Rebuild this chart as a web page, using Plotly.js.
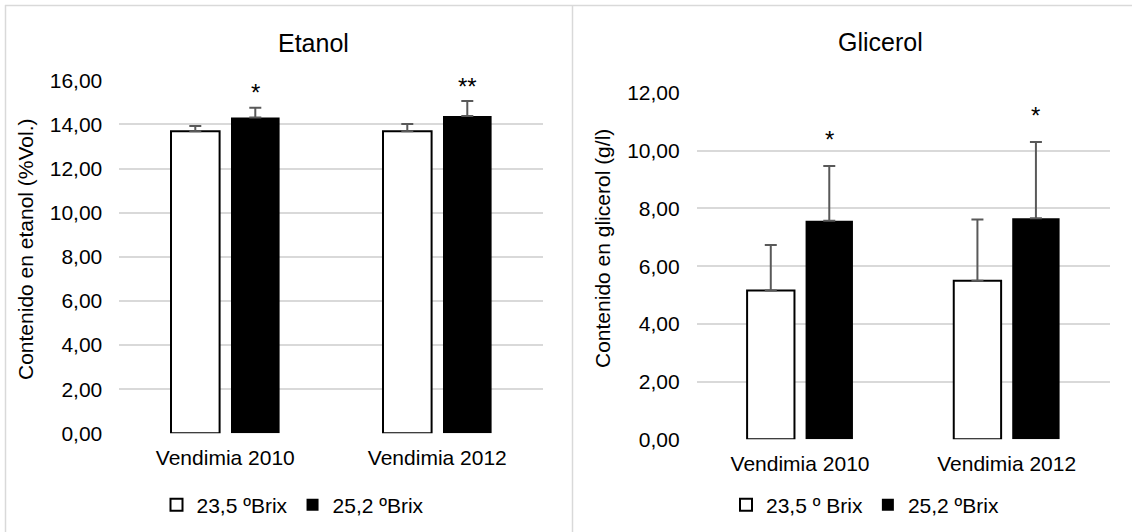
<!DOCTYPE html>
<html>
<head>
<meta charset="utf-8">
<script src="https://cdn.plot.ly/plotly-3.0.1.min.js"></script>
<style>
  html, body { margin: 0; padding: 0; background: #ffffff; }
  #chart { width: 1132px; height: 532px; }
</style>
</head>
<body>
<div id="chart"></div>
<script>
// ---- data ----
const categories = ['Vendimia 2010', 'Vendimia 2012'];

const etanolSeriesNames = ['23,5 ºBrix', '25,2 ºBrix'];
const etanolLow = [13.69, 13.69];
const etanolLowErr = [0.24, 0.33];
const etanolHigh = [14.31, 14.38];
const etanolHighErr = [0.45, 0.68];
const etanolSig = ['*', '**'];

const glicerolSeriesNames = ['23,5 º Brix', '25,2 ºBrix'];
const glicerolLow = [5.16, 5.49];
const glicerolLowErr = [1.57, 2.13];
const glicerolHigh = [7.57, 7.66];
const glicerolHighErr = [1.90, 2.64];
const glicerolSig = ['*', '*'];

const etanolTitle = 'Etanol';
const glicerolTitle = 'Glicerol';
const etanolYTitle = 'Contenido en etanol (%Vol.)';
const glicerolYTitle = 'Contenido en glicerol (g/l)';

// ---- style ----
const FONT = 'Liberation Sans, Arial, sans-serif';
const TXT = '#000000';
const GRID = '#d9d9d9';
const ERRC = '#595959';
const W = 1132, H = 532;
const BARGAP = 0.434, BARGROUPGAP = 0.19;
const FS = 21;

function zeros(a) { return a.map(() => 0); }

function barTrace(y, err, name, fill, xa, ya, legend) {
  return {
    type: 'bar', x: categories, y: y, name: name,
    xaxis: xa, yaxis: ya, legend: legend,
    marker: { color: fill, line: { color: '#000000', width: fill === '#ffffff' ? 2 : 0 } },
    error_y: { type: 'data', symmetric: false, array: err, arrayminus: zeros(err),
               color: ERRC, thickness: 2, width: 6 },
    hoverinfo: 'x+y+name'
  };
}

const traces = [
  barTrace(etanolLow, etanolLowErr, etanolSeriesNames[0], '#ffffff', 'x', 'y', 'legend'),
  barTrace(etanolHigh, etanolHighErr, etanolSeriesNames[1], '#000000', 'x', 'y', 'legend'),
  barTrace(glicerolLow, glicerolLowErr, glicerolSeriesNames[0], '#ffffff', 'x2', 'y2', 'legend2'),
  barTrace(glicerolHigh, glicerolHighErr, glicerolSeriesNames[1], '#000000', 'x2', 'y2', 'legend2')
];

const offset = (1 - BARGAP) / 4; // centre of second bar within a group, in category units
const annotations = [];
etanolSig.forEach((s, i) => annotations.push({
  xref: 'x', yref: 'y', x: i + offset, y: etanolHigh[i] + etanolHighErr[i],
  text: s, showarrow: false, yanchor: 'middle', yshift: 15,
  font: { family: FONT, size: 24, color: TXT }
}));
glicerolSig.forEach((s, i) => annotations.push({
  xref: 'x2', yref: 'y2', x: i + offset, y: glicerolHigh[i] + glicerolHighErr[i],
  text: s, showarrow: false, yanchor: 'middle', yshift: 27,
  font: { family: FONT, size: 24, color: TXT }
}));
// chart titles
annotations.push({ xref: 'paper', yref: 'paper', x: 313 / W, y: 1 - 43 / H, text: etanolTitle,
  showarrow: false, xanchor: 'center', yanchor: 'middle', font: { family: FONT, size: 25, color: TXT } });
annotations.push({ xref: 'paper', yref: 'paper', x: 880 / W, y: 1 - 42 / H, text: glicerolTitle,
  showarrow: false, xanchor: 'center', yanchor: 'middle', font: { family: FONT, size: 25, color: TXT } });
// y axis titles
annotations.push({ xref: 'paper', yref: 'paper', x: 25 / W, y: 1 - 249 / H, text: etanolYTitle,
  textangle: -90, showarrow: false, xanchor: 'center', yanchor: 'middle', font: { family: FONT, size: FS, color: TXT } });
annotations.push({ xref: 'paper', yref: 'paper', x: 602 / W, y: 1 - 249 / H, text: glicerolYTitle,
  textangle: -90, showarrow: false, xanchor: 'center', yanchor: 'middle', font: { family: FONT, size: FS, color: TXT } });

const yCommon = {
  tickformat: '.2f', showgrid: true, gridcolor: GRID, gridwidth: 2,
  zeroline: false, showline: false, ticks: '', ticklabelstandoff: 16,
  tickfont: { family: FONT, size: FS, color: TXT }, fixedrange: true
};
const xCommon = {
  type: 'category', showgrid: false, zeroline: false, showline: false, ticks: '',
  ticklabelstandoff: 10, tickfont: { family: FONT, size: FS, color: TXT }, fixedrange: true
};

const legendCommon = {
  orientation: 'h', xanchor: 'center', yanchor: 'middle',
  font: { family: FONT, size: FS, color: TXT }, bgcolor: 'rgba(0,0,0,0)', traceorder: 'normal'
};

const shapeLine = { color: '#d9d9d9', width: 1.5 };
const layout = {
  width: W, height: H,
  margin: { l: 0, r: 0, t: 0, b: 0, pad: 0 },
  paper_bgcolor: '#ffffff', plot_bgcolor: '#ffffff',
  separators: ', ',
  barmode: 'group', bargap: BARGAP, bargroupgap: BARGROUPGAP,
  xaxis: Object.assign({}, xCommon, { domain: [119.3 / W, 543.3 / W], anchor: 'y' }),
  yaxis: Object.assign({}, yCommon, { domain: [1 - 433.3 / H, 1 - 80.3 / H], range: [0, 16], dtick: 2, anchor: 'x' }),
  xaxis2: Object.assign({}, xCommon, { domain: [696.7 / W, 1110 / W], anchor: 'y2' }),
  yaxis2: Object.assign({}, yCommon, { domain: [1 - 439.3 / H, 1 - 93 / H], range: [0, 12], dtick: 2, anchor: 'x2' }),
  legend: Object.assign({}, legendCommon, { x: 293 / W, y: 1 - 505 / H }),
  legend2: Object.assign({}, legendCommon, { x: 865 / W, y: 1 - 505 / H }),
  annotations: annotations,
  shapes: [
    { type: 'line', xref: 'paper', yref: 'paper', x0: 5 / W, x1: 1, y0: 1 - 5.5 / H, y1: 1 - 5.5 / H, line: shapeLine },
    { type: 'line', xref: 'paper', yref: 'paper', x0: 5.5 / W, x1: 5.5 / W, y0: 0, y1: 1 - 5 / H, line: shapeLine },
    { type: 'line', xref: 'paper', yref: 'paper', x0: 572.5 / W, x1: 572.5 / W, y0: 0, y1: 1 - 5 / H, line: shapeLine }
  ],
  showlegend: true
};

Plotly.newPlot('chart', traces, layout, { displayModeBar: false, staticPlot: true });
</script>
</body>
</html>
